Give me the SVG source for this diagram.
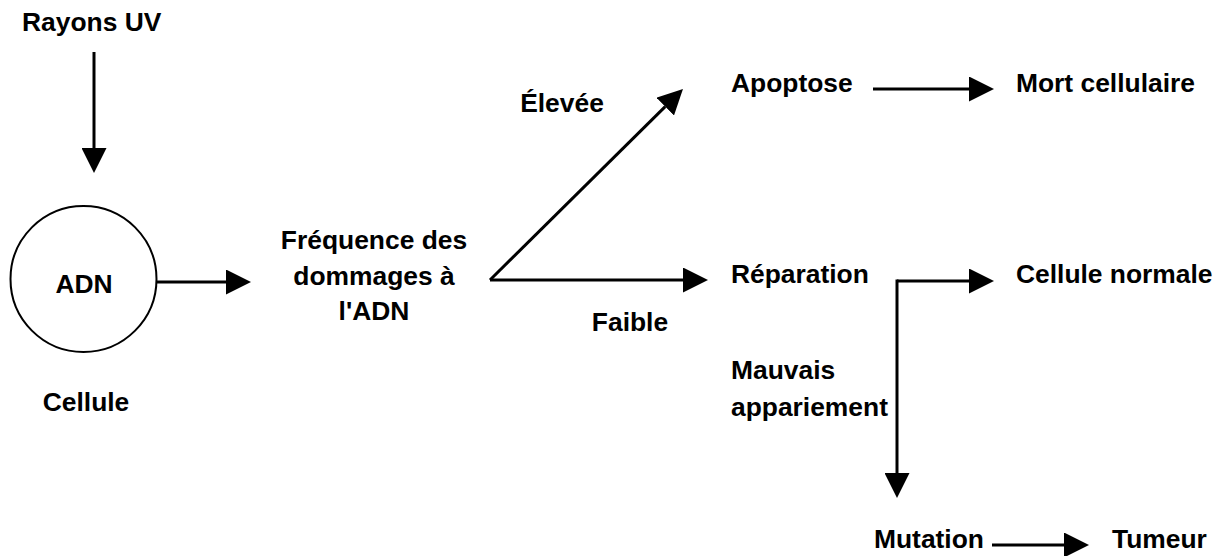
<svg xmlns="http://www.w3.org/2000/svg" width="1226" height="556" viewBox="0 0 1226 556">
<style>
text{font-family:"Liberation Sans",Arial,sans-serif;font-weight:bold;font-size:26.4px;fill:#000}
.c{text-anchor:middle}
.ln{stroke:#000;stroke-width:3;fill:none}
</style>
<defs>
<marker id="ah" markerUnits="userSpaceOnUse" markerWidth="25" markerHeight="25" refX="0" refY="12.5" orient="auto">
<path d="M0,0 L25,12.5 L0,25 Z" fill="#000"/>
</marker>
</defs>
<rect width="1226" height="556" fill="#fff"/>
<g id="connectors">
<line class="ln" x1="94" y1="52" x2="94" y2="148" marker-end="url(#ah)"/>
<line class="ln" x1="157" y1="282" x2="226" y2="282" marker-end="url(#ah)"/>
<line class="ln" x1="490" y1="280" x2="665.2" y2="106.6" marker-end="url(#ah)"/>
<line class="ln" x1="490" y1="280" x2="683" y2="280" marker-end="url(#ah)"/>
<line class="ln" x1="873" y1="89" x2="969" y2="89" marker-end="url(#ah)"/>
<polyline class="ln" points="897,281 969,281" marker-end="url(#ah)"/>
<line class="ln" x1="897" y1="279.5" x2="897" y2="473" marker-end="url(#ah)"/>
<line class="ln" x1="992" y1="545" x2="1064" y2="545" marker-end="url(#ah)"/>
</g>
<g id="rayons"><text x="22" y="31">Rayons UV</text></g>
<g id="adn">
<circle cx="83.5" cy="279" r="73" fill="none" stroke="#000" stroke-width="2"/>
<text class="c" x="84" y="293">ADN</text>
</g>
<g id="cellule"><text class="c" x="86" y="411">Cellule</text></g>
<g id="frequence">
<text class="c" x="374" y="249">Fréquence des</text>
<text class="c" x="374" y="285">dommages à</text>
<text class="c" x="374" y="320">l'ADN</text>
</g>
<g id="elevee"><text class="c" x="562" y="112">Élevée</text></g>
<g id="faible"><text class="c" x="630" y="331">Faible</text></g>
<g id="apoptose"><text x="731" y="92">Apoptose</text></g>
<g id="mort"><text x="1016" y="92">Mort cellulaire</text></g>
<g id="reparation"><text x="731" y="283">Réparation</text></g>
<g id="normale"><text x="1016" y="283">Cellule normale</text></g>
<g id="mauvais">
<text x="731" y="379">Mauvais</text>
<text x="731" y="416">appariement</text>
</g>
<g id="mutation"><text x="874" y="548">Mutation</text></g>
<g id="tumeur"><text x="1112" y="548">Tumeur</text></g>
</svg>
